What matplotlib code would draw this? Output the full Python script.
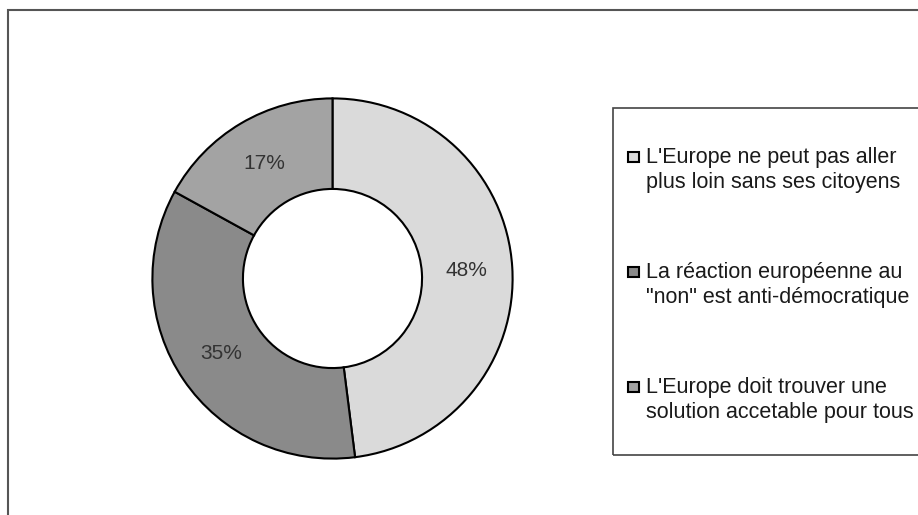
import matplotlib
matplotlib.use('Agg')
import matplotlib.pyplot as plt
from matplotlib.patches import Rectangle

# donnees
labels = ["L'Europe ne peut pas aller\nplus loin sans ses citoyens",
          "La réaction européenne au\n\"non\" est anti-démocratique",
          "L'Europe doit trouver une\nsolution accetable pour tous"]
valeurs = [48, 35, 17]
couleurs = ['#dadada', '#8a8a8a', '#a3a3a3']

plt.rcParams['font.family'] = ['Liberation Sans', 'DejaVu Sans']

W, H = 918, 515
fig = plt.figure(figsize=(W / 100, H / 100), dpi=100)
fig.patch.set_facecolor('white')

# cadre du graphique (en pixels)
def px(x, y):
    return x / W, 1 - y / H

cadre = Rectangle(px(8, 530), 930 / W, 520 / H, transform=fig.transFigure,
                  fill=False, edgecolor='#555555', lw=1.5)
fig.patches.append(cadre)

# anneau
cx, cy, R = 332.5, 278.5, 181
ax = fig.add_axes([(cx - R) / W, (H - cy - R) / H, 2 * R / W, 2 * R / H])
wedges, texts, autotexts = ax.pie(valeurs, colors=couleurs, startangle=90, counterclock=False,
                                  radius=1, autopct='%d%%', pctdistance=0.745,
                                  wedgeprops=dict(width=1 - 90 / R, edgecolor='black', linewidth=1.5),
                                  textprops=dict(fontsize=15, color='#333333'))
ax.set_xlim(-1.005, 1.005)
ax.set_ylim(-1.005, 1.005)
ax.axis('off')

# legende
leg = Rectangle(px(613, 455), 330 / W, (455 - 108) / H, transform=fig.transFigure,
                fill=False, edgecolor='#444444', lw=1.2)
fig.patches.append(leg)

for i, lab in enumerate(labels):
    y0 = 157 + i * 115
    carre = Rectangle(px(628, y0 + 5), 11 / W, 10 / H, transform=fig.transFigure,
                      facecolor=wedges[i].get_facecolor(), edgecolor='black', lw=1.5)
    fig.patches.append(carre)
    for j, ligne in enumerate(lab.split('\n')):
        x, y = px(646, y0 + 6 + j * 25)
        fig.text(x, y, ligne, fontsize=15.5, color='#1a1a1a', va='baseline', ha='left')

fig.savefig('out.png', dpi=100)
